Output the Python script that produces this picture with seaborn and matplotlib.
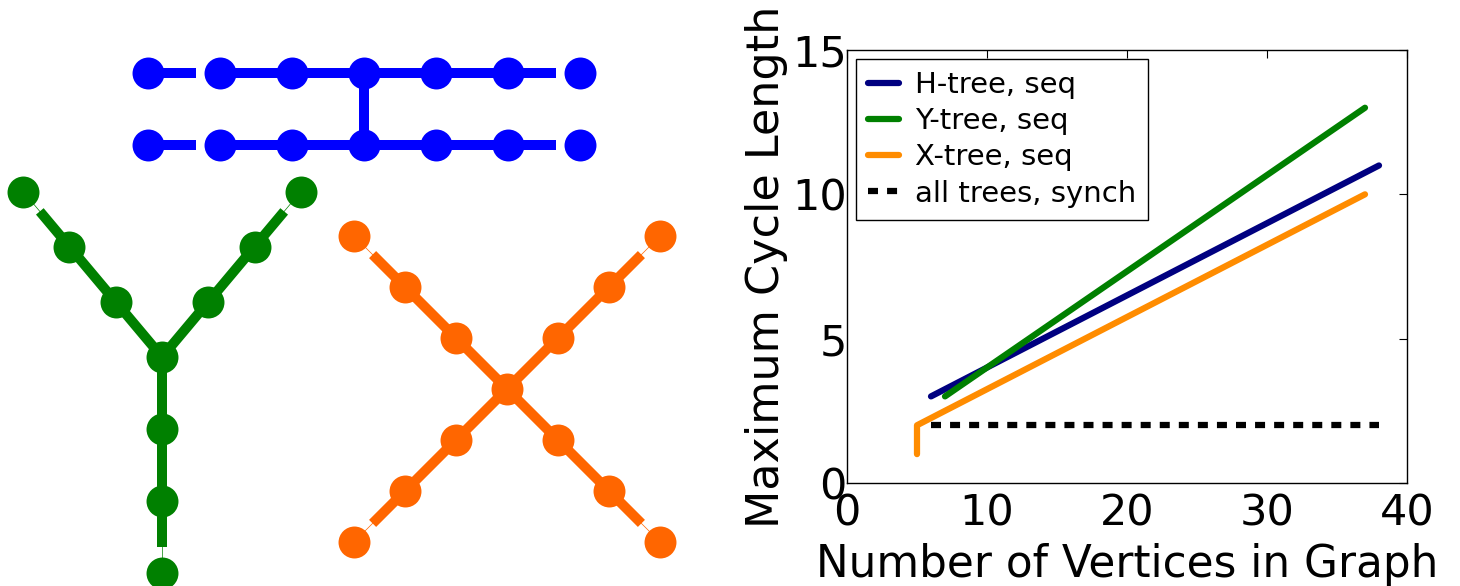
import numpy as np
import matplotlib
matplotlib.use("Agg")
import matplotlib.pyplot as plt
import seaborn as sns

# line chart values
h_vertices = [6, 38]
h_cycle = [3, 11]
y_vertices = [7, 37]
y_cycle = [3, 13]
x_vertices = [5, 5, 37]
x_cycle = [1, 2, 10]
sync_vertices = [6, 38]
sync_cycle = [2, 2]

series_labels = ["H-tree, seq", "Y-tree, seq", "X-tree, seq", "all trees, synch"]
x_ticks = [0, 10, 20, 30, 40]
y_ticks = [0, 5, 10, 15]

# tree sketches: nodes per arm and arm directions (degrees clockwise from up)
h_row_nodes = 7
h_bridge_index = 3
y_arm_nodes = 3
y_arm_angles = [-40, 40, 180]
x_arm_nodes = 3
x_arm_angles = [-45, 45, -135, 135]

sns.set_style("white", rc={"text.color": "black", "axes.labelcolor": "black",
                           "xtick.color": "black", "ytick.color": "black"})
plt.rcParams["font.family"] = ["DejaVu Sans"]

W, H = 1460, 586
fig = plt.figure(figsize=(W / 100, H / 100), dpi=100)

# ---- left: tree drawings in pixel coordinates ----
tax = fig.add_axes([0, 0, 730 / W, 1])
tax.set_xlim(0, 730)
tax.set_ylim(H, 0)
tax.axis("off")

SPACING = 72
NODE = 23
EDGE = 7.2


def seg(p, q, color, frac=1.0, lw=EDGE):
    p, q = np.asarray(p, float), np.asarray(q, float)
    e = p + frac * (q - p)
    tax.plot([p[0], e[0]], [p[1], e[1]], color=color, lw=lw,
             solid_capstyle="butt", zorder=1)


def draw_arms(center, angles, n, color):
    center = np.asarray(center, float)
    pts = [center]
    for a in angles:
        d = np.array([np.sin(np.radians(a)), -np.cos(np.radians(a))])
        arm = [center + SPACING * k * d for k in range(n + 1)]
        for k in range(n - 1):
            seg(arm[k], arm[k + 1], color)
        seg(arm[n - 1], arm[n], color, frac=0.64)
        seg(arm[n - 1], arm[n], color, lw=0.5)
        pts += arm[1:]
    pts = np.array(pts)
    tax.plot(pts[:, 0], pts[:, 1], "o", ms=NODE, color=color, mew=0, zorder=2)


# H-tree
h_color = "#0000ff"
rows = [73, 145]
h_pts = []
for ry in rows:
    xs = [148 + SPACING * i for i in range(h_row_nodes)]
    seg((xs[0], ry), (xs[1], ry), h_color, frac=0.67)
    for i in range(1, h_row_nodes - 2):
        seg((xs[i], ry), (xs[i + 1], ry), h_color)
    seg((xs[-2], ry), (xs[-1], ry), h_color, frac=0.66)
    h_pts += [(x, ry) for x in xs]
bx = 148 + SPACING * h_bridge_index
seg((bx, rows[0]), (bx, rows[1]), h_color)
h_pts = np.array(h_pts)
tax.plot(h_pts[:, 0], h_pts[:, 1], "o", ms=NODE, color=h_color, mew=0, zorder=2)

# Y-tree and X-tree
draw_arms((162, 357), y_arm_angles, y_arm_nodes, "#008000")
draw_arms((507, 389), x_arm_angles, x_arm_nodes, "#ff6600")

# ---- right: cycle length chart ----
ax = fig.add_axes([847 / W, (H - 483) / H, (1407 - 847) / W, (483 - 50) / H])
LW = 4.5
sns.lineplot(x=h_vertices, y=h_cycle, ax=ax, color="navy", lw=LW,
             label=series_labels[0], estimator=None, sort=False)
sns.lineplot(x=y_vertices, y=y_cycle, ax=ax, color="green", lw=LW,
             label=series_labels[1], estimator=None, sort=False)
sns.lineplot(x=x_vertices, y=x_cycle, ax=ax, color="darkorange", lw=LW,
             label=series_labels[2], estimator=None, sort=False)
sns.lineplot(x=sync_vertices, y=sync_cycle, ax=ax, color="black", lw=LW,
             linestyle=(0, (1.6, 1.45)), label=series_labels[3],
             estimator=None, sort=False)

ax.set_xlim(0, 40)
ax.set_ylim(0, 15)
ax.set_xticks(x_ticks)
ax.set_yticks(y_ticks)
for s in ax.spines.values():
    s.set_color("black")
    s.set_linewidth(1.0)
ax.tick_params(direction="in", top=True, right=True, length=6, width=0.8,
               labelsize=31, colors="black")
ax.tick_params(axis="y", pad=0)
ax.tick_params(axis="x", pad=7)
ax.set_xlabel("Number of Vertices in Graph", fontsize=31.5, labelpad=6)
ax.set_ylabel("Maximum Cycle Length", fontsize=32, labelpad=3)

leg = ax.legend(loc="upper left", fontsize=21, frameon=True, fancybox=False,
                edgecolor="black", framealpha=1, borderaxespad=0.3,
                handlelength=1.05, handletextpad=0.55, labelspacing=0.28,
                borderpad=0.42)
leg.get_frame().set_linewidth(1.0)
for t in leg.get_texts():
    t.set_color("black")

fig.savefig("out.png", dpi=100)
